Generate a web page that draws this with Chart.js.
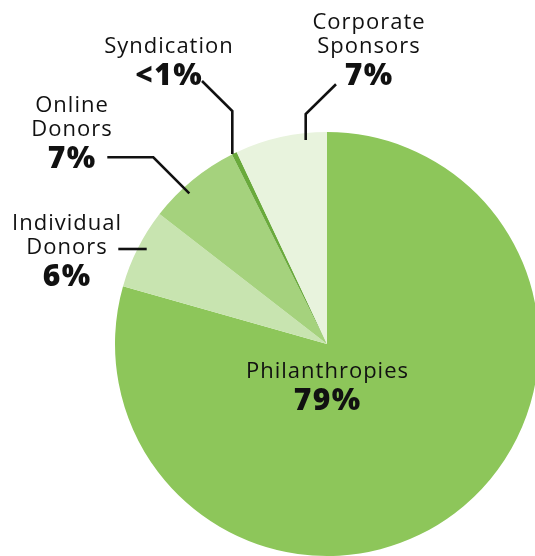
<!DOCTYPE html>
<html>
<head>
<meta charset="utf-8">
<script src="https://cdn.jsdelivr.net/npm/chart.js@4"></script>
<style>
  html, body { margin: 0; padding: 0; background: #fff; overflow: hidden; }
  #wrap { width: 535px; height: 556px; overflow: hidden; }
</style>
</head>
<body>
<div id="wrap"><canvas id="myChart" width="545" height="560"></canvas></div>
<script>
// the data, clockwise from 12 o'clock
const categories = ['Philanthropies', 'Individual Donors', 'Online Donors', 'Syndication', 'Corporate Sponsors']
const shares = [79.4, 6.1, 7.1, 0.4, 7.0]
const shareLabels = ['79%', '6%', '7%', '<1%', '7%']
const colors = ['#8dc65a', '#c8e4b0', '#a5d27d', '#6aaa3c', '#e8f3dd']

// label text lines, where they sit (offsets from the pie centre) and the leader lines
const labelLines = [
    ['Philanthropies'],
    ['Individual', 'Donors'],
    ['Online', 'Donors'],
    ['Syndication'],
    ['Corporate', 'Sponsors']
]
const labelSpots = [
    { x: 0, y: 34 },
    { x: -260.5, y: -114 },
    { x: -255.5, y: -232 },
    { x: -158.5, y: -291 },
    { x: 41.5, y: -315 }
]
const leaders = [
    [],
    [[-208.7, -95], [-180.3, -95]],
    [[-219.7, -186.7], [-173.7, -186.7], [-137.7, -150.7]],
    [[-125, -263], [-94.7, -233], [-94.7, -190]],
    [[9, -259.7], [-21.3, -230], [-21.3, -204]]
]

const labelPlugin = {
    id: 'pieLabels',
    afterDraw(chart) {
        const c = chart.ctx
        const arc = chart.getDatasetMeta(0).data[0]
        const cx = arc.x, cy = arc.y
        c.save()
        c.fillStyle = '#111'
        c.strokeStyle = '#111'
        c.lineWidth = 2.6
        c.lineJoin = 'miter'
        c.textAlign = 'center'
        c.textBaseline = 'alphabetic'

        leaders.forEach(pts => {
            if (!pts.length) return
            c.beginPath()
            pts.forEach((p, i) => {
                if (i === 0) c.moveTo(cx + p[0], cy + p[1])
                else c.lineTo(cx + p[0], cy + p[1])
            })
            c.stroke()
        })

        labelLines.forEach((lines, i) => {
            const spot = labelSpots[i]
            let y = cy + spot.y
            c.font = '22px "Open Sans"'
            c.letterSpacing = '1px'
            lines.forEach((line, j) => {
                if (j > 0) y += 23.5
                c.fillText(line, cx + spot.x + 0.5, y)
            })
            c.font = '800 30px "Open Sans"'
            c.letterSpacing = '1.5px'
            c.fillText(shareLabels[i], cx + spot.x + 0.75, y + 32)
        })
        c.restore()
    }
}

const ctx = document.querySelector('#myChart').getContext('2d')

let chart = new Chart(ctx, {
    type: 'pie',
    data: {
        labels: categories,
        datasets: [{
            data: shares,
            backgroundColor: colors,
            borderWidth: 0
        }]
    },
    options: {
        responsive: false,
        animation: false,
        layout: { padding: { left: 115, right: 6, top: 132, bottom: 4 } },
        plugins: {
            legend: { display: false },
            tooltip: { enabled: false }
        }
    },
    plugins: [labelPlugin]
})
</script>
</body>
</html>
